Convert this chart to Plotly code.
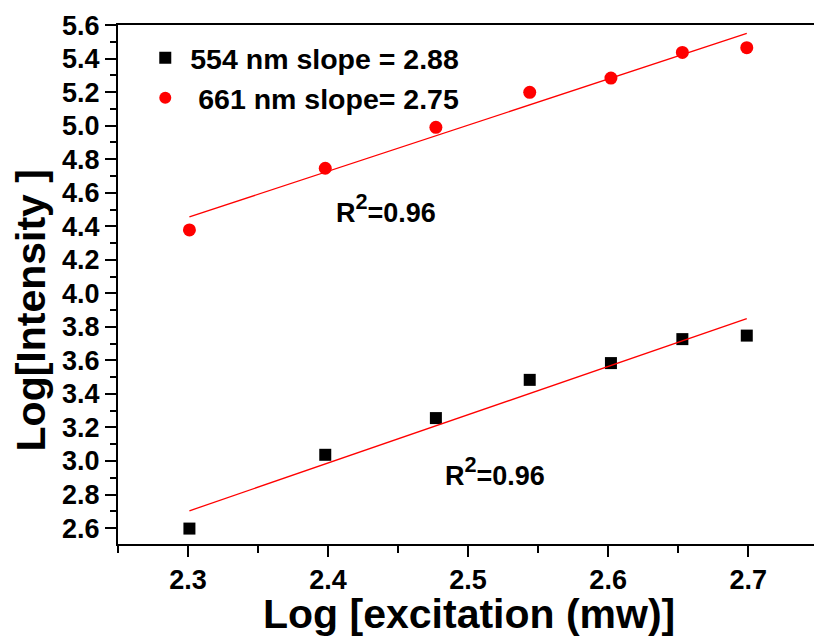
import numpy as np
import plotly.graph_objects as go

# log10 of excitation power (200-500 mW)
log_excitation = [2.301, 2.398, 2.477, 2.544, 2.602, 2.653, 2.699]

# log10 of emission intensity for the two bands
log_int_554 = [2.597, 3.037, 3.256, 3.484, 3.584, 3.727, 3.748]
log_int_661 = [4.378, 4.746, 4.990, 5.199, 5.284, 5.437, 5.465]

# fitted slopes and goodness of fit
slope_554 = 2.88
slope_661 = 2.75
r2_554 = 0.96
r2_661 = 0.96

FONT = "Liberation Sans"


def fit_line(x, y, slope):
    """Straight line of given slope through the centroid of the points."""
    x = np.asarray(x)
    y = np.asarray(y)
    b = y.mean() - slope * x.mean()
    xs = np.array([x.min(), x.max()])
    return xs, slope * xs + b


def r2_text(r2):
    return f"R<span style='font-size:31px'><sup>2</sup></span>={r2:.2f}"


fig = go.Figure()

fig.add_trace(go.Scatter(
    x=log_excitation, y=log_int_554, mode="markers",
    marker=dict(symbol="square", size=12, color="black"),
    name=f"554 nm slope = {slope_554:.2f}",
))
fig.add_trace(go.Scatter(
    x=log_excitation, y=log_int_661, mode="markers",
    marker=dict(symbol="circle", size=13, color="#ff0000"),
    name=f"\u00a0661 nm slope= {slope_661:.2f}",
))

for ys, slope in ((log_int_554, slope_554), (log_int_661, slope_661)):
    lx, ly = fit_line(log_excitation, ys, slope)
    fig.add_trace(go.Scatter(
        x=lx, y=ly, mode="lines",
        line=dict(color="#ff0000", width=1.3),
        showlegend=False, hoverinfo="skip",
    ))

# R^2 labels next to each fit
label_font = dict(family=FONT, size=27, color="black", weight="bold")
fig.add_annotation(x=2.4043, y=4.38, xref="x", yref="y",
                   text=r2_text(r2_661), showarrow=False,
                   xanchor="left", yanchor="bottom", font=label_font)
fig.add_annotation(x=2.482, y=2.81, xref="x", yref="y",
                   text=r2_text(r2_554), showarrow=False,
                   xanchor="left", yanchor="bottom", font=label_font)

# axis titles
title_font = dict(family=FONT, size=41, color="black", weight="bold")
fig.add_annotation(x=-0.125, y=0.45, xref="paper", yref="paper",
                   text="Log[Intensity ]", showarrow=False, textangle=-90,
                   xanchor="center", yanchor="middle", font=title_font)
fig.add_annotation(x=0.5036, y=-0.135, xref="paper", yref="paper",
                   text="Log [excitation (mw)]", showarrow=False,
                   xanchor="center", yanchor="middle", font=title_font)

axis_common = dict(
    showline=True, linecolor="black", linewidth=2,
    ticks="outside", tickcolor="black", tickwidth=2, ticklen=11,
    showgrid=False, zeroline=False,
    tickfont=dict(family=FONT, size=27, color="black", weight="bold"),
)

fig.update_xaxes(
    **axis_common,
    range=[2.25, 2.747], tick0=2.3, dtick=0.1, tickformat=".1f",
    mirror=True,
    minor=dict(dtick=0.05, tick0=2.25, ticks="outside", ticklen=7,
               tickwidth=2, tickcolor="black"),
)
fig.update_yaxes(
    **axis_common,
    range=[2.505, 5.6005], tick0=2.6, dtick=0.2, tickformat=".1f",
    minor=dict(dtick=0.1, tick0=2.5, ticks="outside", ticklen=6,
               tickwidth=2, tickcolor="black"),
)

fig.update_layout(
    width=814, height=637,
    margin=dict(l=118, r=0, t=25, b=93),
    plot_bgcolor="white", paper_bgcolor="white",
    showlegend=True,
    legend=dict(x=0.032, y=0.985, xanchor="left", yanchor="top",
                bgcolor="rgba(0,0,0,0)", borderwidth=0,
                itemwidth=40, itemsizing="constant",
                font=dict(family=FONT, size=28.5, color="black", weight="bold"),
                tracegroupgap=0),
)

fig.write_html("out.html")
